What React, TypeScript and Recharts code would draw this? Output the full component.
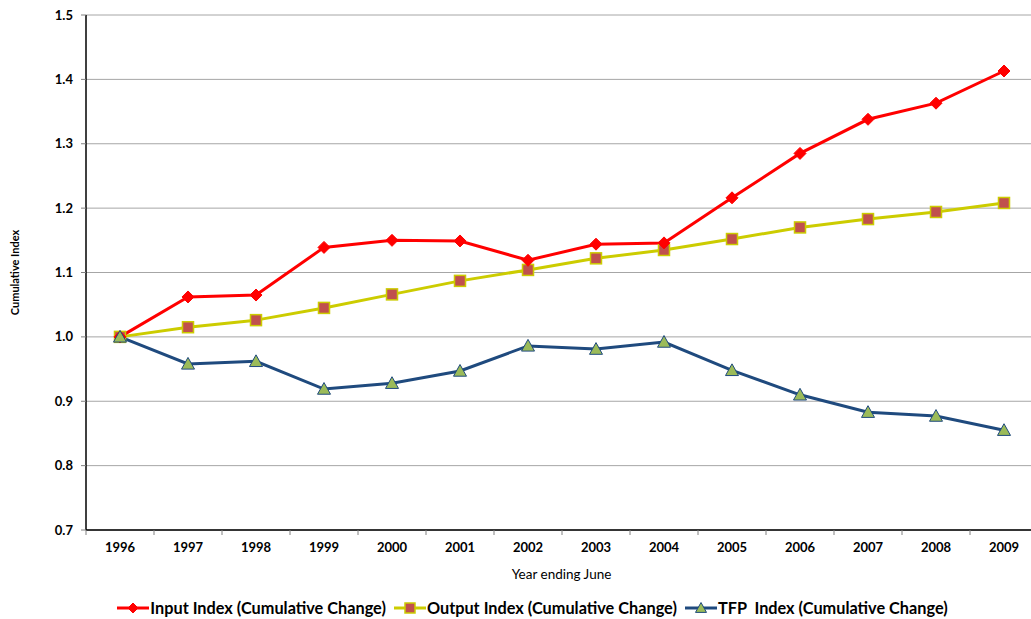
import React from "react";
import { LineChart, Line, XAxis, YAxis, CartesianGrid } from "recharts";

const years = ["1996", "1997", "1998", "1999", "2000", "2001", "2002", "2003", "2004", "2005", "2006", "2007", "2008", "2009"];
const inputIndex = [1.0, 1.062, 1.065, 1.139, 1.15, 1.149, 1.119, 1.144, 1.146, 1.216, 1.285, 1.338, 1.363, 1.413];
const outputIndex = [1.0, 1.015, 1.026, 1.045, 1.066, 1.087, 1.104, 1.122, 1.135, 1.152, 1.17, 1.183, 1.194, 1.208];
const tfpIndex = [1.0, 0.958, 0.962, 0.919, 0.928, 0.947, 0.986, 0.981, 0.992, 0.948, 0.91, 0.883, 0.877, 0.855];
const yTicks = [0.7, 0.8, 0.9, 1.0, 1.1, 1.2, 1.3, 1.4, 1.5];

const seriesNames = {
  input: "Input Index (Cumulative Change)",
  output: "Output Index (Cumulative Change)",
  tfp: "TFP  Index (Cumulative Change)",
};

const data = years.map((year, i) => ({
  year,
  input: inputIndex[i],
  output: outputIndex[i],
  tfp: tfpIndex[i],
}));

const CHART_W = 1040;
const CHART_H = 619;
const X_AXIS_H = 30;
const MARGIN = { top: 15, right: 2, bottom: 59, left: 0 };
const Y_AXIS_W = 86;
const FONT = "Lato, 'Open Sans', sans-serif";

const RED = "#ff0000";
const YELLOW = "#cccc00";
const NAVY = "#1f4a7e";
const SQUARE_FILL = "#c0504d";
const TRI_FILL = "#9bbb59";

const Diamond = ({ cx, cy, s = 6 }: { cx: number; cy: number; s?: number }) => (
  <path d={`M${cx},${cy - s} L${cx + s},${cy} L${cx},${cy + s} L${cx - s},${cy} Z`} fill={RED} stroke={RED} strokeWidth={1} />
);
const Square = ({ cx, cy, s = 5.5 }: { cx: number; cy: number; s?: number }) => (
  <rect x={cx - s} y={cy - s} width={s * 2} height={s * 2} fill={SQUARE_FILL} stroke={YELLOW} strokeWidth={1.5} />
);
const Triangle = ({ cx, cy, s = 6.5 }: { cx: number; cy: number; s?: number }) => (
  <path d={`M${cx},${cy - s} L${cx + s},${cy + s * 0.8} L${cx - s},${cy + s * 0.8} Z`} fill={TRI_FILL} stroke={NAVY} strokeWidth={1} />
);

// each category occupies one band; points sit in the middle of their band
const plotW = CHART_W - MARGIN.right - MARGIN.left - Y_AXIS_W;
const step = plotW / years.length;

const XTick = (props: any) => {
  const { x, y, payload, index } = props;
  const left = x - step / 2;
  return (
    <g>
      <line x1={left} y1={y - 8} x2={left} y2={y - 3} stroke="#808080" strokeWidth={1} />
      {index === years.length - 1 && (
        <line x1={x + step / 2} y1={y - 8} x2={x + step / 2} y2={y - 3} stroke="#808080" strokeWidth={1} />
      )}
      <text x={x} y={y + 14} textAnchor="middle" fontFamily={FONT} fontWeight="bold" fontSize={13} fill="#000">
        {payload.value}
      </text>
    </g>
  );
};

const LegendItem = ({ label, color, marker }: { label: string; color: string; marker: React.ReactNode }) => (
  <div style={{ display: "flex", alignItems: "center", marginRight: 8 }}>
    <svg width={32} height={16} style={{ marginRight: 1 }}>
      <line x1={0} y1={8} x2={32} y2={8} stroke={color} strokeWidth={3} />
      {marker}
    </svg>
    <span style={{ fontFamily: FONT, fontWeight: "bold", fontSize: 16.3, color: "#000", whiteSpace: "pre" }}>{label}</span>
  </div>
);

export default function App() {
  return (
    <div style={{ position: "absolute", left: 0, top: 0, width: 1031, height: 619, overflow: "hidden", background: "#fff" }}>
      <LineChart width={CHART_W} height={CHART_H} data={data} margin={MARGIN}>
        <CartesianGrid vertical={false} stroke="#a6a6a6" strokeWidth={1} />
        <XAxis
          dataKey="year"
          tick={<XTick />}
          tickLine={false}
          axisLine={{ stroke: "#000", strokeWidth: 1.5 }}
          interval={0}
          padding={{ left: step / 2, right: step / 2 }}
          height={X_AXIS_H}
        />
        <YAxis
          width={Y_AXIS_W}
          domain={[0.7, 1.5]}
          ticks={yTicks}
          tickFormatter={(v: number) => v.toFixed(1)}
          tick={{ fontFamily: FONT, fontWeight: "bold", fontSize: 13, fill: "#000" }}
          tickLine={{ stroke: "#808080" }}
          tickSize={5}
          tickMargin={8}
          axisLine={{ stroke: "#000", strokeWidth: 1.5 }}
          allowDataOverflow
          label={{
            value: "Cumulative Index",
            angle: -90,
            position: "insideLeft",
            offset: 15,
            style: { fontFamily: FONT, fontWeight: "bold", fontSize: 11, fill: "#000", textAnchor: "middle" },
          }}
        />
        <Line
          type="linear"
          dataKey="output"
          stroke={YELLOW}
          strokeWidth={3}
          isAnimationActive={false}
          dot={(p: any) => <Square key={`o${p.index}`} cx={p.cx} cy={p.cy} />}
          activeDot={false}
        />
        <Line
          type="linear"
          dataKey="input"
          stroke={RED}
          strokeWidth={3}
          isAnimationActive={false}
          dot={(p: any) => <Diamond key={`i${p.index}`} cx={p.cx} cy={p.cy} />}
          activeDot={false}
        />
        <Line
          type="linear"
          dataKey="tfp"
          stroke={NAVY}
          strokeWidth={3}
          isAnimationActive={false}
          dot={(p: any) => <Triangle key={`t${p.index}`} cx={p.cx} cy={p.cy} />}
          activeDot={false}
        />
      </LineChart>
      <div
        style={{
          position: "absolute",
          top: 566,
          left: 0,
          width: 1031,
          textAlign: "center",
          fontFamily: FONT,
          fontSize: 13.5,
          paddingLeft: 92,
          boxSizing: "border-box",
        }}
      >
        Year ending June
      </div>
      <div
        style={{
          position: "absolute",
          top: 598,
          left: 0,
          width: 1031,
          display: "flex",
          justifyContent: "center",
          paddingLeft: 42,
          boxSizing: "border-box",
        }}
      >
        <LegendItem label={seriesNames.input} color={RED} marker={<Diamond cx={16} cy={8} s={5} />} />
        <LegendItem label={seriesNames.output} color={YELLOW} marker={<Square cx={16} cy={8} s={5} />} />
        <LegendItem label={seriesNames.tfp} color={NAVY} marker={<Triangle cx={16} cy={8} s={5.5} />} />
      </div>
    </div>
  );
}
